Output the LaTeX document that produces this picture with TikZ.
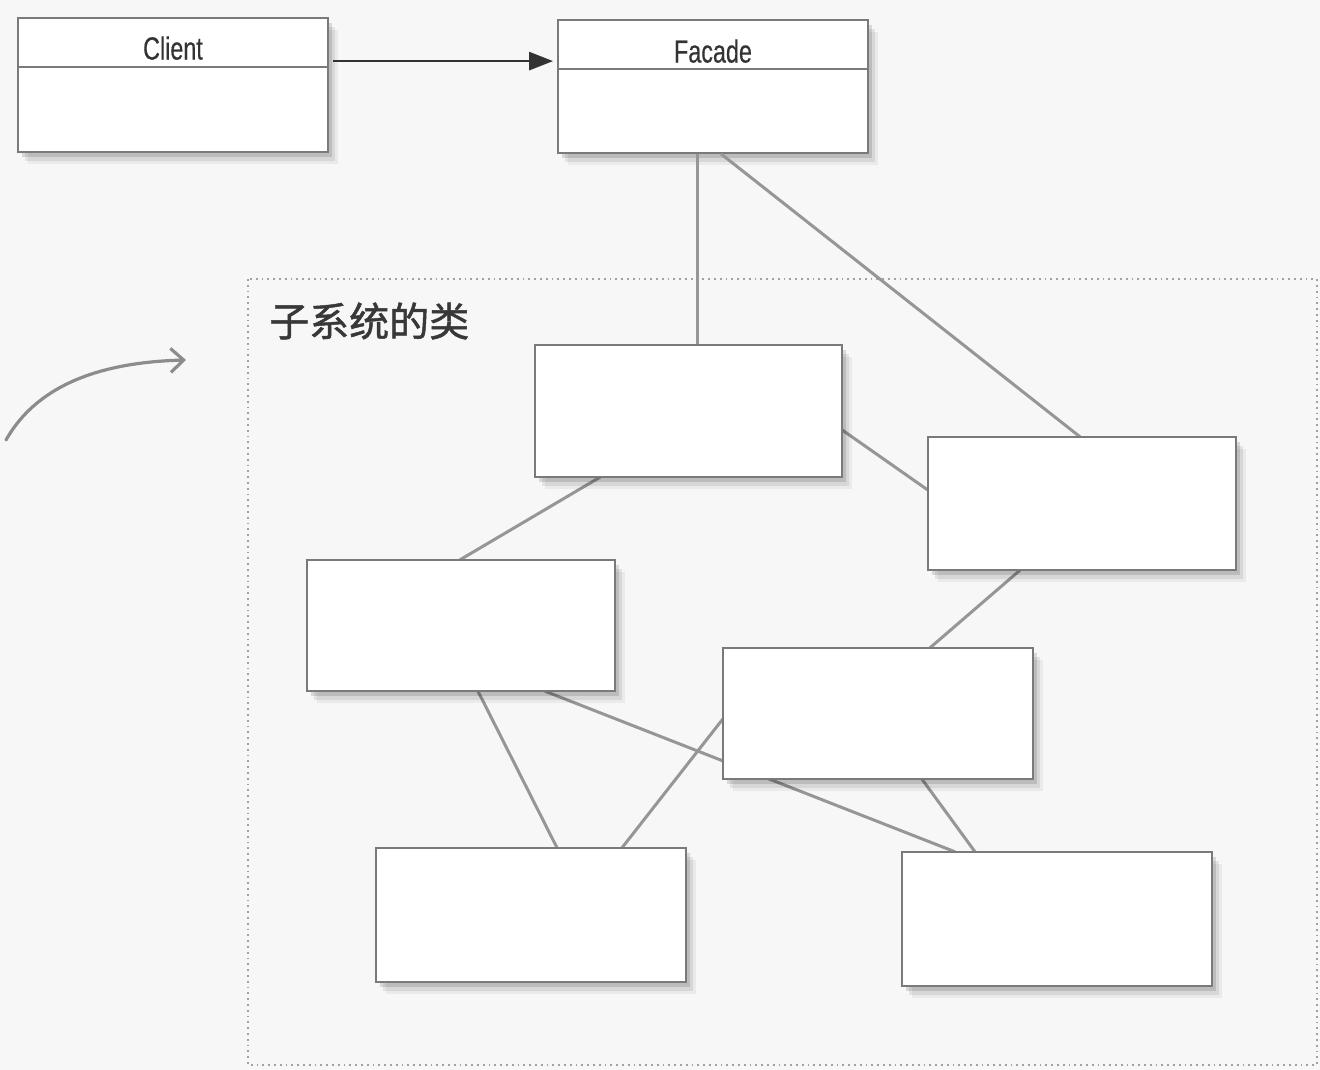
\documentclass[tikz,border=0pt]{standalone}
\usepackage{fontspec}
\setmainfont{Liberation Sans}
\newfontfamily\narrowfont[FakeStretch=0.73,FakeBold=0.4]{Liberation Sans}
\newfontfamily\cjk[FakeBold=1.2]{Noto Sans CJK SC}
\usetikzlibrary{shadows,arrows.meta}
\definecolor{bg}{HTML}{F7F7F7}
\definecolor{boxline}{HTML}{7A7A7A}
\definecolor{linkline}{HTML}{969696}
\definecolor{arrowdark}{HTML}{333333}
\begin{document}
\begin{tikzpicture}[x=1pt,y=-1pt,
  softshadow/.style={
    general shadow={shadow xshift=10pt,shadow yshift=-12pt,opacity=0.05,fill=black},
    general shadow={shadow xshift=7pt,shadow yshift=-9pt,opacity=0.08,fill=black},
    general shadow={shadow xshift=4pt,shadow yshift=-5pt,opacity=0.12,fill=black}},
  classbox/.style={draw=boxline, line width=1.8pt, fill=white, softshadow,
    inner sep=0pt, minimum width=#1, minimum height=133pt},
  classbox/.default=310pt,
  divider/.style={draw=boxline, line width=2pt},
  clslabel/.style={font=\narrowfont\fontsize{32}{34}\selectfont, text=black!80, inner sep=0pt},
  link/.style={draw=linkline, line width=3pt},
  call/.style={draw=arrowdark, line width=2.8pt, -{Triangle[length=24pt,width=18pt]}},
  hint/.style={draw=black!45, line width=3.2pt, line cap=round, -{Straight Barb[length=13pt,width=24pt,line width=3.2pt]}},
  frametext/.style={font=\cjk\fontsize{40}{42}\selectfont, text=black!78, inner sep=0pt, anchor=west}
]
\fill[bg] (0,0) rectangle (1320,1070);
\useasboundingbox (0,0) rectangle (1320,1070);

% dotted frame of the subsystem
\draw[boxline!70, line width=1.8pt, dash pattern=on 1.8pt off 4pt] (248,279) rectangle (1317,1065);
\node[frametext] (framelbl) at (269,321) {子系统的类};

% curved hint arrow
\coordinate (hs) at (6,440);
\coordinate (he) at (186,360);
\draw[hint] (hs) .. controls (40,380) and (110,362) .. (he);

% Client and Facade
\node[classbox, minimum height=134pt] (client) at (173,85) {};
\node[classbox] (facade) at (713,86.5) {};

% subsystem box positions
\coordinate (Apos) at (688.5,411);
\coordinate (Bpos) at (1082,503.5);
\coordinate (Cpos) at (461,625.5);
\coordinate (Mpos) at (878,713.5);
\coordinate (Fpos) at (531,915);
\coordinate (Epos) at (1057,919);

% invisible nodes giving anchors for links
\path node[minimum width=307pt, minimum height=132pt, inner sep=0pt] (A) at (Apos) {}
      node[minimum width=308pt, minimum height=133pt, inner sep=0pt] (B) at (Bpos) {}
      node[minimum width=308pt, minimum height=131pt, inner sep=0pt] (C) at (Cpos) {}
      node[minimum width=310pt, minimum height=131pt, inner sep=0pt] (M) at (Mpos) {}
      node[minimum width=310pt, minimum height=134pt, inner sep=0pt] (F) at (Fpos) {}
      node[minimum width=310pt, minimum height=134pt, inner sep=0pt] (E) at (Epos) {};

% links
\draw[link] ([xshift=-16pt]facade.south) -- ([xshift=8.5pt]A.north);
\draw[link] ([xshift=8pt]facade.south) -- ([xshift=-2pt]B.north);
\draw[link] ([yshift=-19pt]A.east) -- ([yshift=13.5pt]B.west);
\draw[link] ([xshift=-88.5pt]A.south) -- ([xshift=-1pt]C.north);
\draw[link] ([xshift=-62pt]B.south) -- ([xshift=52pt]M.north);
\draw[link] ([xshift=17pt]C.south) -- ([xshift=26pt]F.north);
\draw[link] ([xshift=84pt]C.south) -- ([xshift=-102pt]E.north);
\draw[link] ([yshift=-5.5pt]M.west) -- ([xshift=91pt]F.north);
\draw[link] ([xshift=44pt]M.south) -- ([xshift=-82pt]E.north);

% visible subsystem boxes
\node[classbox=307pt, minimum height=132pt] (Abox) at (Apos) {};
\node[classbox=308pt, minimum height=133pt] (Bbox) at (Bpos) {};
\node[classbox=308pt, minimum height=131pt] (Cbox) at (Cpos) {};
\node[classbox=310pt, minimum height=131pt] (Mbox) at (Mpos) {};
\node[classbox=310pt, minimum height=134pt] (Fbox) at (Fpos) {};
\node[classbox=310pt, minimum height=134pt] (Ebox) at (Epos) {};

% dividers and labels of Client / Facade
\draw[divider] ([yshift=-50pt]client.north west) -- ([yshift=-50pt]client.north east);
\draw[divider] ([yshift=-50pt]facade.north west) -- ([yshift=-50pt]facade.north east);
\node[clslabel] (clientlbl) at ([yshift=-31pt]client.north) {Client};
\node[clslabel] (facadelbl) at ([yshift=-32pt]facade.north) {Facade};

% call arrow
\draw[call] ([xshift=4pt,yshift=-44pt]client.north east) -- ([xshift=-4pt,yshift=-42pt]facade.north west);
\end{tikzpicture}
\end{document}
